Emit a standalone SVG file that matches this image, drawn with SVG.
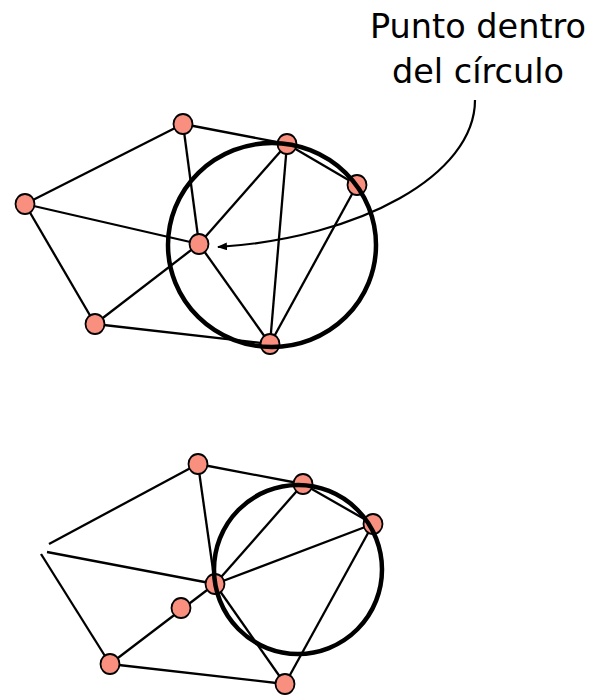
<svg xmlns="http://www.w3.org/2000/svg" width="590" height="695" viewBox="0 0 590 695">
<style>
.e{stroke:#000;stroke-width:2.3;fill:none;stroke-linecap:butt}
.a{stroke:#000;stroke-width:2.2;fill:none}
.n{fill:#F98F7F;stroke:#000;stroke-width:1.8}
.c{fill:none;stroke:#000;stroke-width:4.5}
.t{font-family:Tahoma,"DejaVu Sans",sans-serif;font-size:33.5px;fill:#000;text-anchor:middle}
</style>
<defs>
<marker id="ah" viewBox="0 0 10 8" refX="9" refY="4" markerWidth="10" markerHeight="8" markerUnits="userSpaceOnUse" orient="auto">
<path d="M0,0 L10,4 L0,8 z" fill="#000"/>
</marker>
</defs>
<rect width="590" height="695" fill="#fff"/>
<g id="connectors">
<line class="e" x1="25" y1="204" x2="183" y2="124"/>
<line class="e" x1="25" y1="204" x2="199" y2="244"/>
<line class="e" x1="25" y1="204" x2="95" y2="324"/>
<line class="e" x1="183" y1="124" x2="287" y2="144"/>
<line class="e" x1="183" y1="124" x2="199" y2="244"/>
<line class="e" x1="199" y1="244" x2="287" y2="144"/>
<line class="e" x1="199" y1="244" x2="270" y2="344"/>
<line class="e" x1="199" y1="244" x2="95" y2="324"/>
<line class="e" x1="95" y1="324" x2="270" y2="344"/>
<line class="e" x1="287" y1="144" x2="270" y2="344"/>
<line class="e" x1="357" y1="185" x2="270" y2="344"/>
<line class="e" x1="287" y1="144" x2="357" y2="185"/>
<line class="e" x1="49" y1="544" x2="198" y2="464"/>
<line class="e" x1="47" y1="552" x2="215" y2="584"/>
<line class="e" x1="41" y1="554" x2="110" y2="664"/>
<line class="e" x1="198" y1="464" x2="303" y2="484"/>
<line class="e" x1="198" y1="464" x2="215" y2="584"/>
<line class="e" x1="215" y1="584" x2="303" y2="484"/>
<line class="e" x1="215" y1="584" x2="373" y2="524"/>
<line class="e" x1="215" y1="584" x2="285" y2="684"/>
<line class="e" x1="215" y1="584" x2="110" y2="664"/>
<line class="e" x1="110" y1="664" x2="285" y2="684"/>
<line class="e" x1="373" y1="524" x2="285" y2="684"/>
<line class="e" x1="303" y1="484" x2="373" y2="524"/>
<path class="a" d="M475,100 C475,175 360,238 218,247" marker-end="url(#ah)"/>
</g>
<g id="top-nodes">
<g id="t-a"><ellipse class="n" cx="183" cy="124" rx="9.5" ry="10"/></g>
<g id="t-b"><ellipse class="n" cx="287" cy="144" rx="9.5" ry="10"/></g>
<g id="t-c"><ellipse class="n" cx="357" cy="185" rx="9.5" ry="10"/></g>
<g id="t-l"><ellipse class="n" cx="25" cy="204" rx="9.5" ry="10"/></g>
<g id="t-p"><ellipse class="n" cx="199" cy="244" rx="9.5" ry="10"/></g>
<g id="t-d"><ellipse class="n" cx="95" cy="324" rx="9.5" ry="10"/></g>
<g id="t-e"><ellipse class="n" cx="270" cy="344" rx="9.5" ry="10"/></g>
</g>
<g id="bottom-nodes">
<g id="b-a"><ellipse class="n" cx="198" cy="464" rx="9.5" ry="10"/></g>
<g id="b-b"><ellipse class="n" cx="303" cy="484" rx="9.5" ry="10"/></g>
<g id="b-c"><ellipse class="n" cx="373" cy="524" rx="9.5" ry="10"/></g>
<g id="b-p"><ellipse class="n" cx="215" cy="584" rx="9.5" ry="10"/></g>
<g id="b-q"><ellipse class="n" cx="181" cy="608" rx="9.5" ry="10"/></g>
<g id="b-d"><ellipse class="n" cx="110" cy="664" rx="9.5" ry="10"/></g>
<g id="b-e"><ellipse class="n" cx="285" cy="684" rx="9.5" ry="10"/></g>
</g>
<g id="circles">
<ellipse class="c" cx="272" cy="245" rx="104" ry="102"/>
<ellipse class="c" cx="298" cy="569.5" rx="84" ry="84.5"/>
</g>
<g id="label">
<text class="t" x="478" y="38">Punto dentro</text>
<text class="t" x="478" y="83">del círculo</text>
</g>
</svg>
